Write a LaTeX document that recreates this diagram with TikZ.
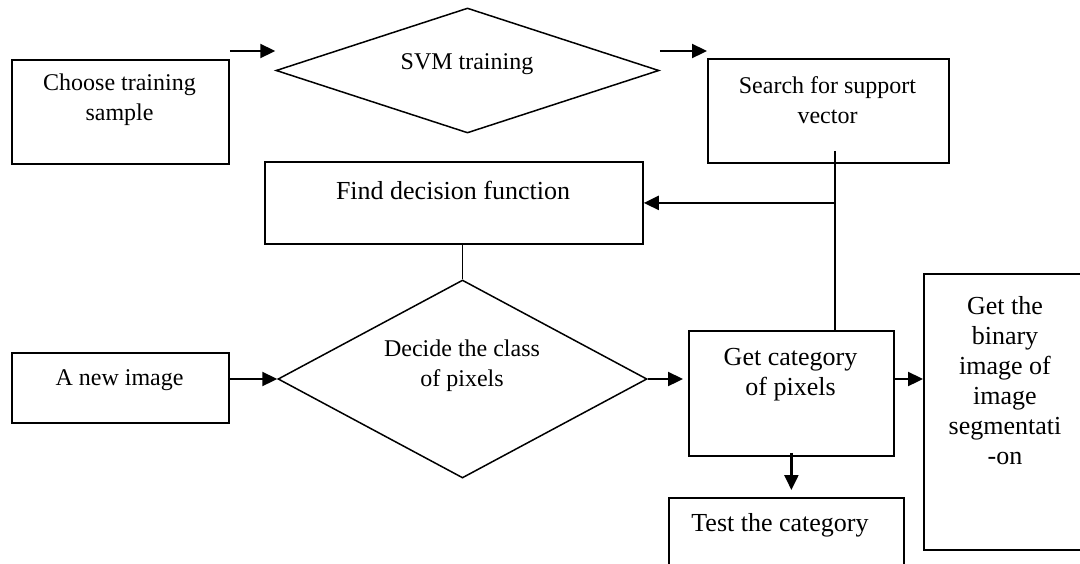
\documentclass[tikz,border=0pt]{standalone}
\usepackage{fontspec}
\setmainfont{Liberation Serif}
\usetikzlibrary{shapes.geometric,arrows.meta,calc}
\begin{document}
\begin{tikzpicture}[x=1pt,y=-1pt,
  box/.style={draw, line width=1.8pt, rectangle, inner sep=0pt},
  dia/.style={draw, line width=1.5pt, diamond, inner sep=0pt},
  txt/.style={align=center, inner sep=0pt, font=\fontsize{24}{30}\selectfont},
  bigtxt/.style={align=center, inner sep=0pt, font=\fontsize{26}{30}\selectfont},
  arr/.style={line width=2.3pt, -{Triangle[length=15pt,width=14pt]}},
  link/.style={line width=1.8pt}]
\useasboundingbox (0,0) rectangle (1080,563);

% training branch
\node[box, anchor=north west, minimum width=217pt, minimum height=104pt] (choose) at (11,59) {};
\node[txt] (chooset) at (119.5,100) {Choose training\\sample};
\node[dia, minimum width=383pt, minimum height=125pt] (svm) at (467.5,70.5) {};
\node[txt] (svmt) at (467,64) {SVM training};
\node[box, anchor=north west, minimum width=241pt, minimum height=104pt] (search) at (707,58) {};
\node[txt] (searcht) at (827.5,100) {Search for support\\vector};
\node[box, anchor=north west, minimum width=378pt, minimum height=82pt] (find) at (264,161) {};
\node[bigtxt] (findt) at (453,190) {Find decision function};

% classification branch
\node[dia, minimum width=369pt, minimum height=198pt] (decide) at (462.5,379) {};
\node[txt] (decidet) at (462,366) {Decide the class\\of pixels};
\node[box, anchor=north west, minimum width=217pt, minimum height=70pt] (newimg) at (11,352) {};
\node[txt] (newimgt) at (119.5,380) {A new image};
\node[box, anchor=north west, minimum width=205pt, minimum height=125pt] (getcat) at (688,330) {};
\node[bigtxt] (getcatt) at (790.5,375) {Get category\\of pixels};
\node[box, anchor=north west, minimum width=164pt, minimum height=276pt] (binary) at (923,273) {};
\node[bigtxt] (binaryt) at (1005,381) {Get the\\binary\\image of\\image\\segmentati\\-on};
\node[box, anchor=north west, minimum width=235pt, minimum height=80pt] (test) at (668,497) {};
\node[bigtxt] (testt) at (780,525) {Test the category};

% connectors
\coordinate (a1s) at ($(choose.north east)+(0,-8)$);
\draw[arr] (a1s) -- (a1s -| svm.west);
\coordinate (a2s) at ($(svm.east)+(0,-19.5)$);
\draw[arr] (a2s) -- (a2s -| search.west);
\coordinate (svtop) at ($(search.south)+(6.5,-13)$);
\draw[link] (svtop) -- (svtop |- getcat.north);
\draw[arr] (svtop |- find.east) -- (find.east);
\draw[link] (decide.north |- find.south) -- (decide.north);
\draw[arr] (newimg.east |- decide.west) -- (decide.west);
\draw[arr, shorten >=5pt] (decide.east) -- (decide.east -| getcat.west);
\draw[arr] (getcat.east |- decide.east) -- (binary.west |- decide.east);
\coordinate (tdown) at ($(getcat.south)+(0,-4)$);
\draw[arr, shorten >=7pt] (tdown) -- (tdown |- test.north);
\end{tikzpicture}
\end{document}
